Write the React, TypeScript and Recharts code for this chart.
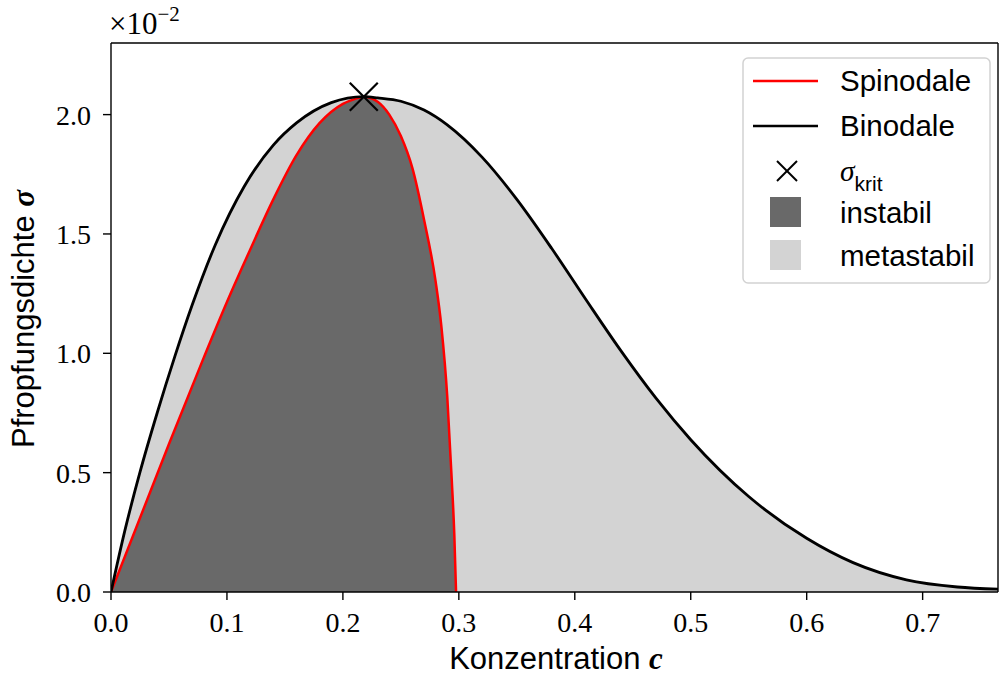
import React from 'react';
import { ComposedChart, Area, Line, Scatter, XAxis, YAxis, ReferenceLine } from 'recharts';

// Binodale: Konzentration c vs. Pfropfungsdichte sigma (in 1e-2)
const binodaleC = [0, 0.012, 0.025, 0.04, 0.055, 0.07, 0.09, 0.115, 0.14, 0.16, 0.19, 0.218, 0.23, 0.25, 0.27, 0.29, 0.32, 0.35, 0.38, 0.41, 0.44, 0.47, 0.5, 0.55, 0.6, 0.64, 0.686, 0.73, 0.765];
const binodaleS = [0, 0.258, 0.502, 0.753, 0.986, 1.202, 1.455, 1.7, 1.872, 1.965, 2.05, 2.075, 2.07, 2.056, 2.019, 1.957, 1.822, 1.645, 1.44, 1.222, 1.009, 0.812, 0.638, 0.4, 0.225, 0.123, 0.051, 0.021, 0.012];

// Spinodale
const spinodaleC = [0, 0.05, 0.08, 0.1, 0.12, 0.14, 0.16, 0.18, 0.2, 0.21, 0.218, 0.23, 0.24, 0.25, 0.26, 0.27, 0.28, 0.285, 0.29, 0.294, 0.2961, 0.2976];
const spinodaleS = [0, 0.62, 0.982, 1.215, 1.434, 1.645, 1.83, 1.965, 2.045, 2.065, 2.075, 2.054, 2.0, 1.91, 1.775, 1.56, 1.3, 1.11, 0.82, 0.46, 0.24, 0];

// kritischer Punkt
const kritC = [0.218];
const kritS = [2.075];

const xTicks = [0, 0.1, 0.2, 0.3, 0.4, 0.5, 0.6, 0.7];
const yTicks = [0, 0.5, 1.0, 1.5, 2.0];
const xMax = 0.765;
const yMax = 2.3;

const binodale = binodaleC.map((c, i) => ({ c, s: binodaleS[i] }));
const spinodale = spinodaleC.map((c, i) => ({ c, s: spinodaleS[i] }));
const krit = kritC.map((c, i) => ({ c, s: kritS[i] }));

const SERIF = '"Liberation Serif", "DejaVu Serif", serif';
const SANS = '"Liberation Sans", Arial, sans-serif';
const INSTABIL = '#696969';
const METASTABIL = '#d3d3d3';

const tickStyle = { fontFamily: SERIF, fontSize: 28, fill: '#000' };
const axisLine = { stroke: '#000', strokeWidth: 1.4 };
const tickLine = { stroke: '#000', strokeWidth: 1.4 };

const Cross = ({ cx, cy, r = 14, w = 2.2 }: { cx?: number; cy?: number; r?: number; w?: number }) => {
  if (cx == null || cy == null) return null;
  return (
    <g stroke="#000" strokeWidth={w}>
      <line x1={cx - r} y1={cy - r} x2={cx + r} y2={cy + r} />
      <line x1={cx - r} y1={cy + r} x2={cx + r} y2={cy - r} />
    </g>
  );
};

const Overlay = () => (
  <svg width={1000} height={677} style={{ position: 'absolute', left: 0, top: 0, pointerEvents: 'none' }}>
    {/* Skalierungsfaktor der y-Achse */}
    <text x={109} y={34} fontFamily={SERIF} fontSize={31}>
      ×10
      <tspan fontSize={21} dy={-13}>−2</tspan>
    </text>

    {/* Achsenbeschriftungen */}
    <text x={556} y={669} textAnchor="middle" fontFamily={SANS} fontSize={31}>
      Konzentration{' '}
      <tspan fontFamily={SERIF} fontStyle="italic" fontWeight="bold">c</tspan>
    </text>
    <text transform="translate(34,319) rotate(-90)" textAnchor="middle" fontFamily={SANS} fontSize={31}>
      Pfropfungsdichte{' '}
      <tspan fontFamily={SERIF} fontStyle="italic" fontWeight="bold">σ</tspan>
    </text>

    {/* Legende */}
    <rect x={743} y={58} width={247} height={225} rx={5} fill="#fff" fillOpacity={0.8} stroke="#d2d2d2" strokeWidth={1.5} />
    <line x1={753} y1={81} x2={818} y2={81} stroke="#ff0000" strokeWidth={2.7} />
    <text x={840} y={91} fontFamily={SANS} fontSize={29.5}>Spinodale</text>
    <line x1={753} y1={126} x2={818} y2={126} stroke="#000" strokeWidth={2.7} />
    <text x={840} y={136} fontFamily={SANS} fontSize={29.5}>Binodale</text>
    <Cross cx={787} cy={171} r={10} w={2} />
    <text x={840} y={181} fontFamily={SERIF} fontStyle="italic" fontSize={29.5}>
      σ
      <tspan fontFamily={SANS} fontStyle="normal" fontSize={21} dy={10}>krit</tspan>
    </text>
    <rect x={770} y={197} width={31} height={30} fill={INSTABIL} />
    <text x={840} y={223} fontFamily={SANS} fontSize={29.5}>instabil</text>
    <rect x={770} y={240} width={31} height={30} fill={METASTABIL} />
    <text x={840} y={266} fontFamily={SANS} fontSize={29.5}>metastabil</text>
  </svg>
);

export default function App() {
  return (
    <div style={{ position: 'absolute', left: 0, top: 0, width: 1000, height: 677, background: '#fff' }}>
      <ComposedChart width={1000} height={677} margin={{ top: 43, right: 2, bottom: 45, left: 51 }}>
        <XAxis
          dataKey="c"
          type="number"
          domain={[0, xMax]}
          ticks={xTicks}
          tickFormatter={(v: number) => v.toFixed(1)}
          allowDataOverflow
          height={40}
          tick={tickStyle}
          tickSize={8}
          tickMargin={12}
          axisLine={axisLine}
          tickLine={tickLine}
        />
        <YAxis
          dataKey="s"
          type="number"
          domain={[0, yMax]}
          ticks={yTicks}
          tickFormatter={(v: number) => v.toFixed(1)}
          allowDataOverflow
          width={60}
          tick={tickStyle}
          tickSize={8}
          tickMargin={12}
          axisLine={axisLine}
          tickLine={tickLine}
        />

        <Area data={binodale} dataKey="s" type="monotone" fill={METASTABIL} fillOpacity={1} stroke="none" dot={false} activeDot={false} isAnimationActive={false} />
        <Area data={spinodale} dataKey="s" type="monotone" fill={INSTABIL} fillOpacity={1} stroke="none" dot={false} activeDot={false} isAnimationActive={false} />
        <Line data={spinodale} dataKey="s" type="monotone" stroke="#ff0000" strokeWidth={2.5} dot={false} activeDot={false} isAnimationActive={false} />
        <Line data={binodale} dataKey="s" type="monotone" stroke="#000" strokeWidth={2.8} dot={false} activeDot={false} isAnimationActive={false} />
        <Scatter data={krit} dataKey="s" shape={(p: any) => <Cross cx={p.cx} cy={p.cy} />} isAnimationActive={false} />

        {/* obere und rechte Rahmenlinie */}
        <ReferenceLine y={yMax} stroke="#000" strokeWidth={1.4} />
        <ReferenceLine x={xMax} stroke="#000" strokeWidth={1.4} />
      </ComposedChart>
      <Overlay />
    </div>
  );
}
